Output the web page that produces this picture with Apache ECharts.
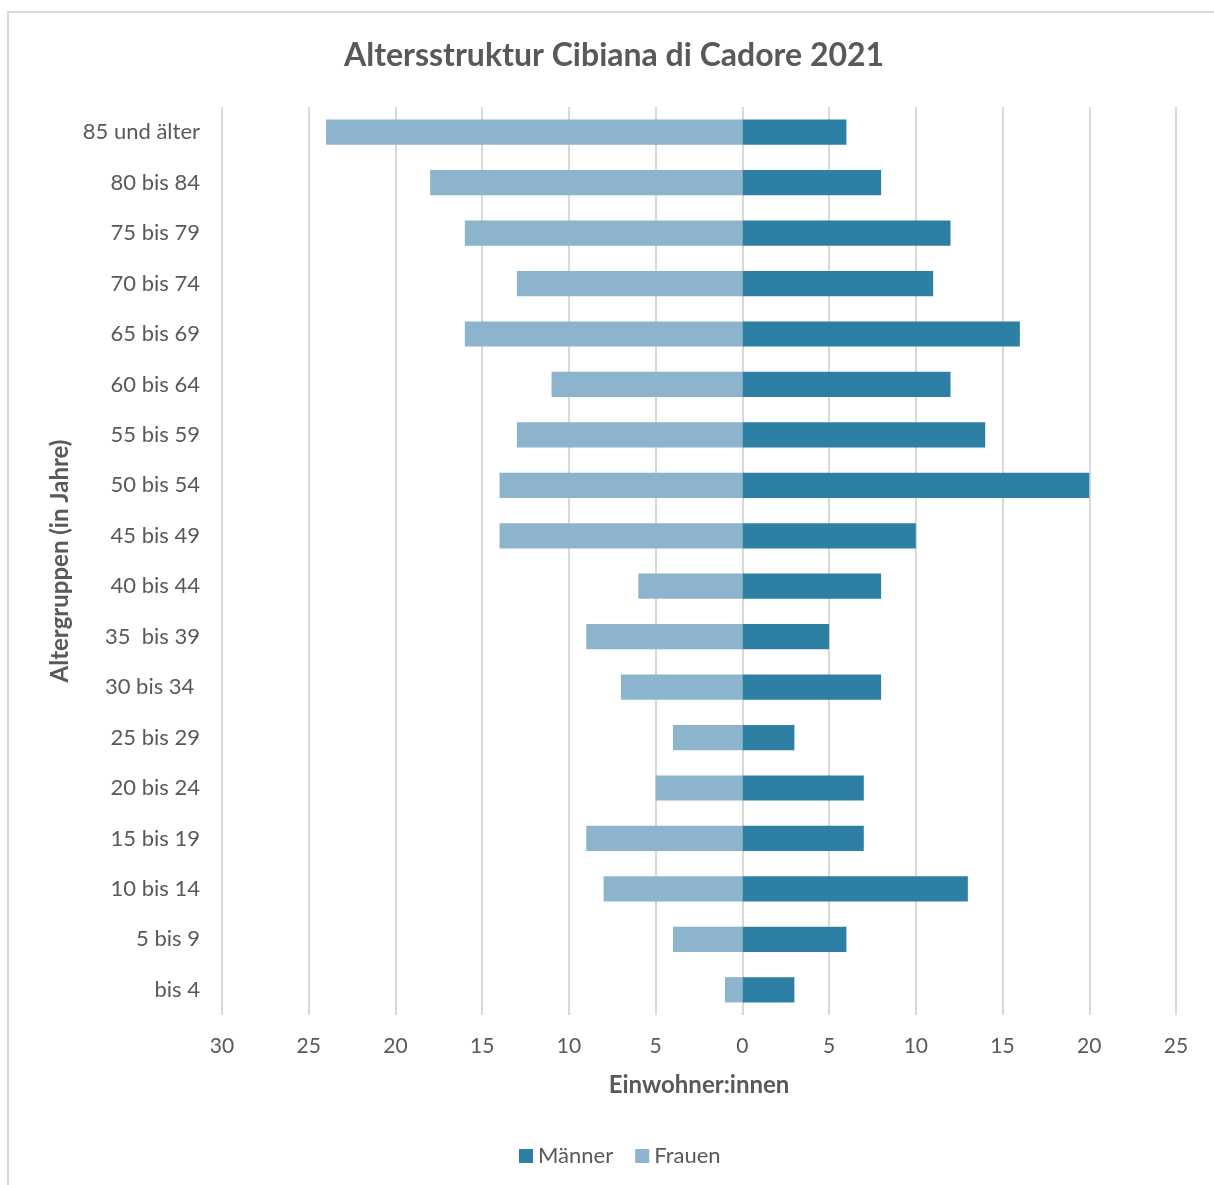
<!DOCTYPE html>
<html>
<head>
<meta charset="utf-8">
<script src="https://cdn.jsdelivr.net/npm/echarts@6/dist/echarts.min.js"></script>
<style>
html,body{margin:0;padding:0;background:#fff;}
#frame{position:absolute;left:7px;top:11px;width:1230px;height:1200px;border:2px solid #d9d9d9;box-sizing:border-box;}
#chart{position:absolute;left:0;top:0;width:1214px;height:1185px;}
</style>
</head>
<body>
<div id="frame"></div>
<div id="chart"></div>
<script>
const categories = ["bis 4","5 bis 9","10 bis 14","15 bis 19","20 bis 24","25 bis 29","30 bis 34 ","35  bis 39","40 bis 44","45 bis 49","50 bis 54","55 bis 59","60 bis 64","65 bis 69","70 bis 74","75 bis 79","80 bis 84","85 und älter"];
const maenner = [3,6,13,7,7,3,8,5,8,10,20,14,12,16,11,12,8,6];
const frauen = [1,4,8,9,5,4,7,9,6,14,14,13,11,16,13,16,18,24];
const xTicks = {min:-30, max:25, interval:5};

const font = 'Lato, "Open Sans", sans-serif';
const chart = echarts.init(document.getElementById('chart'));
chart.setOption({
  backgroundColor: 'transparent',
  animation: false,
  title: {
    text: 'Altersstruktur Cibiana di Cadore 2021',
    left: 339, top: 35,
    textStyle: {fontFamily: font, fontSize: 32, fontWeight: 'bold', color: '#595959'}
  },
  legend: {
    bottom: 13, left: 514,
    itemWidth: 14, itemHeight: 14, itemGap: 22,
    icon: 'rect',
    textStyle: {fontFamily: font, fontSize: 22, color: '#595959'},
    data: ['Männer','Frauen']
  },
  grid: {left: 222, right: 38, top: 107, bottom: 170, containLabel: false},
  xAxis: {
    type: 'value', min: xTicks.min, max: xTicks.max, interval: xTicks.interval,
    name: 'Einwohner:innen', nameLocation: 'middle', nameGap: 58,
    nameTextStyle: {fontFamily: font, fontSize: 24, fontWeight: 'bold', color: '#595959'},
    axisLine: {show: false}, axisTick: {show: false},
    axisLabel: {fontFamily: font, fontSize: 21, color: '#595959', margin: 21,
      formatter: v => String(Math.abs(v))},
    splitLine: {show: true, lineStyle: {color: '#d9d9d9', width: 2}}
  },
  yAxis: {
    type: 'category', data: categories,
    name: 'Altergruppen (in Jahre)', nameLocation: 'middle', nameGap: 150, nameRotate: 90,
    nameTextStyle: {fontFamily: font, fontSize: 24, fontWeight: 'bold', color: '#595959'},
    axisLine: {show: false}, axisTick: {show: false},
    axisLabel: {fontFamily: font, fontSize: 22, color: '#595959', margin: 22},
    splitLine: {show: false}
  },
  series: [
    {name: 'Männer', type: 'bar', stack: 'a', data: maenner, barWidth: '50%',
     itemStyle: {color: '#2e7fa4'}},
    {name: 'Frauen', type: 'bar', stack: 'a', data: frauen.map(v => -v), barWidth: '50%',
     itemStyle: {color: '#8cb4cc'}}
  ]
});
</script>
</body>
</html>
